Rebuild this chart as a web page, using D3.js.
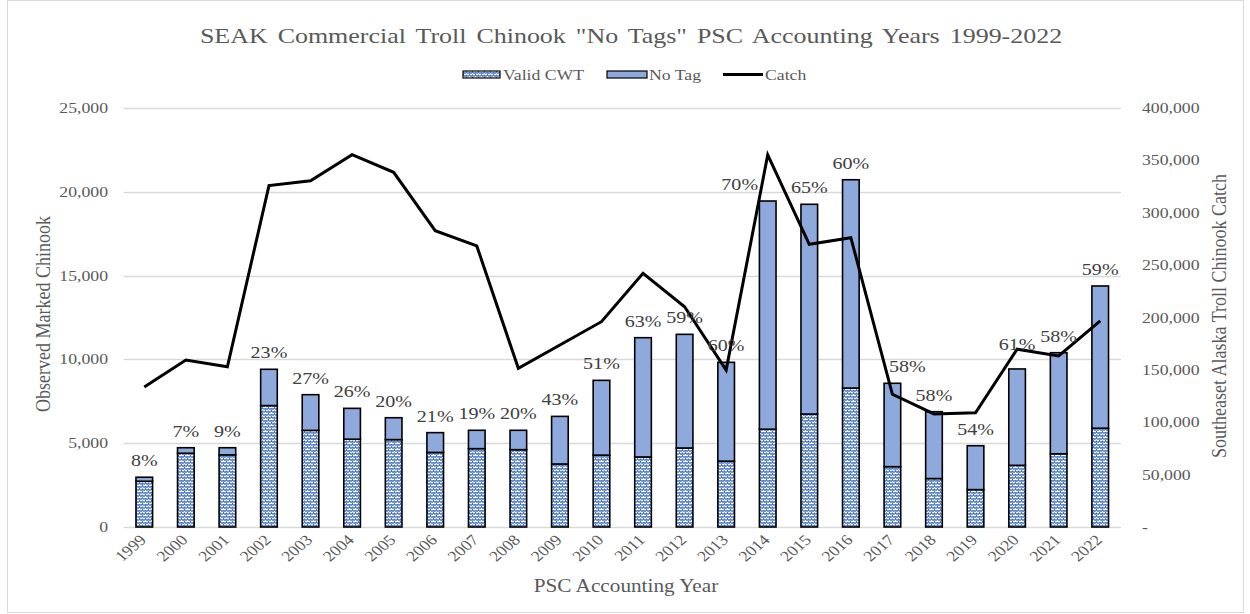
<!DOCTYPE html>
<html><head><meta charset="utf-8">
<script src="https://cdn.jsdelivr.net/npm/d3@7"></script>
<style>body{margin:0;background:#fff;} svg{display:block;}</style>
</head><body>
<svg id="c" width="1250" height="614"></svg>
<script>
const years = ["1999","2000","2001","2002","2003","2004","2005","2006","2007","2008","2009","2010","2011","2012","2013","2014","2015","2016","2017","2018","2019","2020","2021","2022"];
const validCWT = [2730,4400,4305,7245,5765,5240,5215,4450,4675,4615,3760,4290,4180,4715,3930,5835,6740,8290,3600,2890,2230,3680,4370,5895];
const noTag = [240,330,425,2165,2130,1840,1305,1180,1095,1155,2840,4460,7115,6780,5895,13615,12515,12430,4975,3990,2620,5750,6030,8485];
const pctLabels = ["8%","7%","9%","23%","27%","26%","20%","21%","19%","20%","43%","51%","63%","59%","60%","70%","65%","60%","58%","58%","54%","61%","58%","59%"];
const catchVals = [133700,159400,153000,325900,330600,355500,338600,282900,268300,151500,173800,196000,242200,210300,149900,355200,269900,276200,126700,107900,109100,169700,163300,196700];
const leftTicks = [0,5000,10000,15000,20000,25000];
const rightTicks = [0,50000,100000,150000,200000,250000,300000,350000,400000];

const W = 1250, H = 614, SX = 1.18, TXT = "#595959", FONT = "'Liberation Serif','Times New Roman',serif";
const svg = d3.select("#c");
const defs = svg.append("defs");
const pat = defs.append("pattern").attr("id","weave").attr("patternUnits","userSpaceOnUse").attr("width",6).attr("height",6);
pat.append("rect").attr("width",6).attr("height",6).attr("fill","#fff");
pat.append("path").attr("d","M0,1.5 L1.5,0 L3,1.5 L4.5,0 L6,1.5 M0,4.5 L1.5,3 L3,4.5 L4.5,3 L6,4.5 M1.5,3 L1.5,1.5 M4.5,6 L4.5,4.5").attr("stroke","#4472C4").attr("stroke-width",1.1).attr("fill","none");

svg.append("rect").attr("x",7.5).attr("y",0.5).attr("width",1236).attr("height",612).attr("fill","#fff").attr("stroke","#d9d9d9");

const x = d3.scaleBand().domain(years).range([123.5,1121]).paddingInner(0.6).paddingOuter(0.3);
const yL = d3.scaleLinear().domain([0,25000]).range([527,108]);
const yR = d3.scaleLinear().domain([0,400000]).range([527,108]);

function txt(g, s, px, py, size, anchor, rot){
  return g.append("text").text(s).attr("font-family",FONT).attr("font-size",size).attr("fill",TXT)
    .attr("text-anchor",anchor||"middle")
    .attr("transform",`translate(${px},${py}) scale(${SX},1)` + (rot?` rotate(${rot})`:""));
}

// gridlines
svg.append("g").selectAll("line").data(leftTicks).join("line")
  .attr("x1",123.5).attr("x2",1121).attr("y1",d=>Math.round(yL(d))+0.5).attr("y2",d=>Math.round(yL(d))+0.5)
  .attr("stroke","#d9d9d9").attr("stroke-width",1.3);

// left axis labels
const gl = svg.append("g");
leftTicks.forEach(t=>txt(gl, d3.format(",")(t), 108, yL(t)+5, 15, "end"));
// right axis labels
const gr = svg.append("g");
rightTicks.forEach(t=>txt(gr, t===0?"-":d3.format(",")(t), 1142, yR(t)+5, 15, "start"));

// bars
const bars = svg.append("g");
years.forEach((yr,i)=>{
  const bx = x(yr), bw = x.bandwidth();
  bars.append("rect").attr("x",bx).attr("width",bw).attr("y",yL(validCWT[i])).attr("height",yL(0)-yL(validCWT[i]))
    .attr("fill","url(#weave)").attr("stroke","#000").attr("stroke-width",1.6);
  bars.append("rect").attr("x",bx).attr("width",bw).attr("y",yL(validCWT[i]+noTag[i])).attr("height",yL(validCWT[i])-yL(validCWT[i]+noTag[i]))
    .attr("fill","#8EA9DB").attr("stroke","#000").attr("stroke-width",1.6);
});

// catch line
const line = d3.line().x((d,i)=>x(years[i])+x.bandwidth()/2).y(d=>yR(d));
svg.append("path").datum(catchVals).attr("d",line).attr("fill","none").attr("stroke","#000").attr("stroke-width",3).attr("stroke-linejoin","miter");

// pct labels
const nudge = {"2014":[-28,0],"2017":[15,0],"2020":[0,-8]};
const gp = svg.append("g");
years.forEach((yr,i)=>{
  const n = nudge[yr]||[0,0];
  txt(gp, pctLabels[i], x(yr)+x.bandwidth()/2+n[0], yL(validCWT[i]+noTag[i])-11+n[1], 17, "middle").attr("fill","#404040");
});

// year labels
const gx = svg.append("g");
years.forEach(yr=>txt(gx, yr, x(yr)+x.bandwidth()/2+3, 541, 15, "end", -45));

// titles
txt(svg, 'SEAK Commercial Troll Chinook "No Tags" PSC Accounting Years 1999-2022', 631, 43, 22, "middle").attr("word-spacing","3px");
txt(svg, "PSC Accounting Year", 626, 592, 18, "middle");
txt(svg, "Observed Marked Chinook", 50, 314, 18, "middle", -90);
txt(svg, "Southeaset Alaska Troll Chinook Catch", 1226, 316, 18, "middle", -90);

// legend
const lg = svg.append("g");
lg.append("rect").attr("x",463).attr("y",71).attr("width",37).attr("height",7).attr("fill","url(#weave)").attr("stroke","#000").attr("stroke-width",1.2);
txt(lg, "Valid CWT", 503, 79.5, 15, "start");
lg.append("rect").attr("x",607).attr("y",71).attr("width",40).attr("height",7).attr("fill","#8EA9DB").attr("stroke","#000").attr("stroke-width",1.2);
txt(lg, "No Tag", 649, 79.5, 15, "start");
lg.append("line").attr("x1",723).attr("x2",763).attr("y1",74.5).attr("y2",74.5).attr("stroke","#000").attr("stroke-width",3);
txt(lg, "Catch", 765, 79.5, 15, "start");
</script>
</body></html>
